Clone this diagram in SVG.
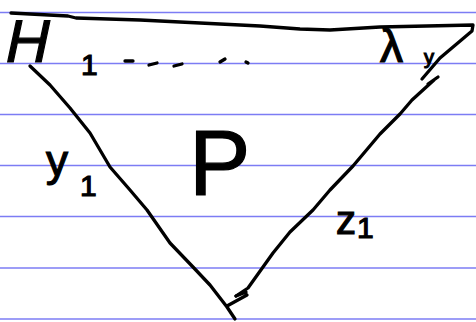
<svg xmlns="http://www.w3.org/2000/svg" width="476" height="322" viewBox="0 0 476 322">
<style>
.rule{stroke:#7c7cf4;stroke-width:1.4;fill:none}
.ink{stroke:#000;stroke-width:3.3;fill:none;stroke-linecap:round;stroke-linejoin:round}
.lbl{font-family:"Liberation Sans",Arial,sans-serif;fill:#000;stroke:#000;stroke-width:1.2}
</style>
<rect width="476" height="322" fill="#fff"/>
<g id="paper">
<line class="rule" x1="0" y1="12.5" x2="476" y2="12.5"/>
<line class="rule" x1="0" y1="63.5" x2="476" y2="63.5"/>
<line class="rule" x1="0" y1="114.5" x2="476" y2="114.5"/>
<line class="rule" x1="0" y1="165.5" x2="476" y2="165.5"/>
<line class="rule" x1="0" y1="216.5" x2="476" y2="216.5"/>
<line class="rule" x1="0" y1="268" x2="476" y2="268"/>
<line class="rule" x1="0" y1="319" x2="476" y2="319"/>
</g>
<g id="connectors">
<path class="ink" d="M11,13 L68,16 L76,18 L140,20 L200,23 L260,26 L300,29 L330,30 L380,27 L473,25 L472,31 L440,58 L422,79"/>
<path class="ink" d="M438,77 L428,84 M434,80 L412,100 L400,114 L380,134 L353,166 L330,190 L313,210 L290,232 L273,253 L263,267 L248,288 L236,296"/>
<path class="ink" d="M236,296 L246,292 M227,306 L247,295"/>
<path class="ink" d="M30,66 L50,85 L70,108 L90,133 L110,167 L130,190 L147,210 L170,243 L193,267 L210,285 L227,307 L235,319"/>
<path class="ink" d="M125,61 L133,61 M149,65 L157,63 M174,66 L182,64 M220,62 L225,59 M246,62 L248,63"/>
</g>
<g id="node-P">
<text class="lbl" x="189" y="195" font-size="92">P</text>
</g>
<g id="label-top-left">
<text class="lbl" x="8" y="62" font-size="60" transform="skewX(-12) translate(8,0)">H</text>
<text class="lbl" x="81" y="75" font-size="30">1</text>
</g>
<g id="label-top-right">
<text class="lbl" x="380" y="62" font-size="46">λ</text>
<text class="lbl" x="424" y="64" font-size="20">y</text>
</g>
<g id="label-left">
<text class="lbl" x="46" y="176" font-size="44">y</text>
<text class="lbl" x="80" y="196" font-size="30">1</text>
</g>
<g id="label-right">
<text class="lbl" x="336" y="234" font-size="40">z</text>
<text class="lbl" x="357" y="238" font-size="30">1</text>
</g>
</svg>
